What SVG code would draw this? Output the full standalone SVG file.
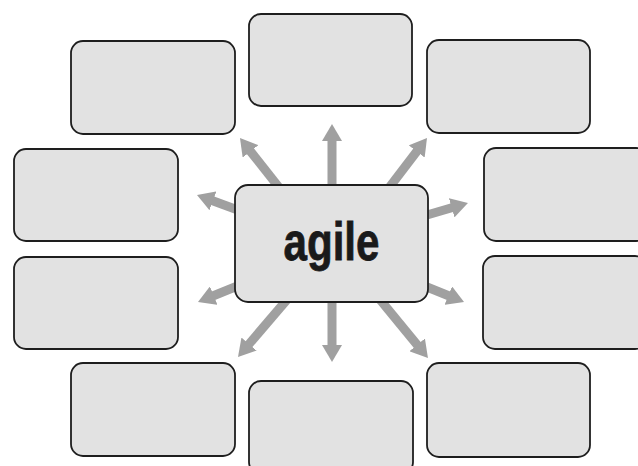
<svg xmlns="http://www.w3.org/2000/svg" width="638" height="466" viewBox="0 0 638 466">
  <style>
    .box { fill: #e2e2e2; stroke: #1e1e1e; stroke-width: 1.8; }
    .arrow { stroke: #a0a0a0; stroke-width: 9; fill: none; marker-end: url(#head); }
    .label { font-family: "Liberation Sans", Arial, sans-serif; font-weight: bold; font-size: 53px; fill: #1a1a1a; stroke: #1a1a1a; stroke-width: 0.8; }
  </style>
  <defs>
    <marker id="head" markerUnits="userSpaceOnUse" markerWidth="18" markerHeight="20" refX="1" refY="10" orient="auto">
      <path d="M0,0 L17,10 L0,20 Z" fill="#a0a0a0"/>
    </marker>
  </defs>
  <rect width="638" height="466" fill="#ffffff"/>

  <!-- connectors radiating from the hub -->
  <g id="connectors">
    <line class="arrow" x1="332" y1="240" x2="332" y2="140"/>
    <line class="arrow" x1="332" y1="240" x2="332" y2="346"/>
    <line class="arrow" x1="300" y1="214" x2="249.9" y2="150.6"/>
    <line class="arrow" x1="369" y1="214" x2="417.3" y2="150.7"/>
    <line class="arrow" x1="254" y1="216" x2="212" y2="200.5"/>
    <line class="arrow" x1="253.5" y1="279.5" x2="212.8" y2="296"/>
    <line class="arrow" x1="406.5" y1="221" x2="452.6" y2="207.5"/>
    <line class="arrow" x1="408.5" y1="279.5" x2="449.2" y2="296"/>
    <line class="arrow" x1="303.8" y1="280" x2="248.4" y2="344.8"/>
    <line class="arrow" x1="363.6" y1="279.6" x2="417.8" y2="345.6"/>
  </g>

  <!-- surrounding empty boxes -->
  <g id="box-top-left"><rect class="box" x="71" y="41" width="164" height="93" rx="12"/></g>
  <g id="box-top"><rect class="box" x="249" y="14" width="163" height="92" rx="12"/></g>
  <g id="box-top-right"><rect class="box" x="427" y="40" width="163" height="93" rx="12"/></g>
  <g id="box-left-upper"><rect class="box" x="14" y="149" width="164" height="92" rx="12"/></g>
  <g id="box-left-lower"><rect class="box" x="14" y="257" width="164" height="92" rx="12"/></g>
  <g id="box-right-upper"><rect class="box" x="484" y="148" width="164" height="93" rx="12"/></g>
  <g id="box-right-lower"><rect class="box" x="483" y="256" width="164" height="93" rx="12"/></g>
  <g id="box-bottom-left"><rect class="box" x="71" y="363" width="164" height="93" rx="12"/></g>
  <g id="box-bottom"><rect class="box" x="249" y="381" width="164" height="93" rx="12"/></g>
  <g id="box-bottom-right"><rect class="box" x="427" y="363" width="163" height="94" rx="12"/></g>

  <!-- hub -->
  <g id="hub">
    <rect class="box" x="235" y="185" width="193" height="117" rx="13"/>
    <text class="label" x="331.5" y="260" text-anchor="middle" textLength="96" lengthAdjust="spacingAndGlyphs">agile</text>
  </g>
</svg>
